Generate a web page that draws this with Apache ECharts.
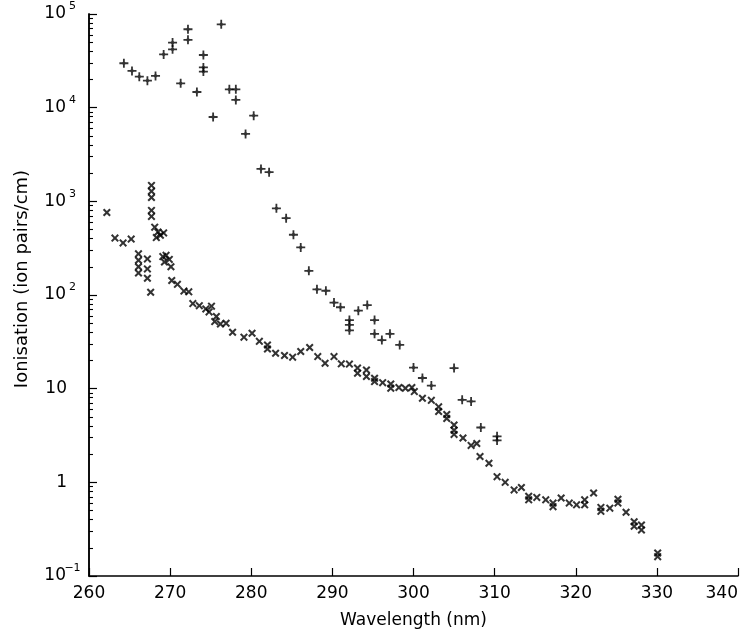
<!DOCTYPE html>
<html>
<head>
<meta charset="utf-8">
<script src="https://cdn.jsdelivr.net/npm/echarts@6/dist/echarts.min.js"></script>
<style>
  html, body { margin: 0; padding: 0; background: #ffffff; }
  #chart { width: 744px; height: 637px; }
</style>
</head>
<body>
<div id="chart"></div>
<script>
// ---- data ----
const plusWavelength = [264.3, 265.3, 266.2, 267.2, 268.2, 269.2, 270.3, 270.3, 271.3, 272.2, 272.2, 273.3, 274.1, 274.1, 274.1, 275.3, 276.3, 277.3, 278.1, 278.1, 279.3, 280.3, 281.2, 282.2, 283.1, 284.3, 285.2, 286.1, 287.1, 288.1, 289.2, 290.2, 291.0, 292.1, 292.1, 292.1, 293.2, 294.3, 295.2, 295.2, 296.1, 297.1, 298.3, 300.0, 301.1, 302.2, 305.0, 306.0, 307.1, 308.3, 310.3, 310.3];
const plusIonisation = [29800, 24700, 21400, 19400, 21800, 37000, 49500, 42000, 18200, 68700, 53000, 14700, 36500, 26900, 24300, 7950, 77600, 15700, 15700, 12100, 5250, 8220, 2220, 2050, 843, 661, 440, 322, 181, 115, 111, 83, 74, 54, 48, 42, 68, 78, 54, 38.5, 33, 38.5, 29.3, 16.8, 13, 10.8, 16.6, 7.6, 7.3, 3.85, 3.1, 2.8];

const crossWavelength = [262.2, 263.2, 264.2, 265.2, 266.1, 266.1, 266.1, 266.1, 267.2, 267.2, 267.2, 267.6, 267.7, 267.7, 267.7, 267.7, 267.7, 268.1, 268.3, 268.5, 268.8, 269.2, 269.1, 269.5, 269.9, 269.3, 270.1, 270.2, 270.9, 271.7, 272.3, 272.8, 273.6, 274.4, 275.1, 274.8, 275.7, 275.5, 276.2, 276.9, 277.7, 279.1, 280.1, 281.0, 282.0, 282.0, 283.0, 284.1, 285.1, 286.1, 287.2, 288.2, 289.1, 290.2, 291.1, 292.1, 293.1, 293.1, 294.2, 294.2, 295.2, 295.2, 296.2, 297.2, 297.2, 298.2, 299.0, 299.8, 300.1, 301.1, 302.2, 303.1, 303.1, 304.1, 304.1, 305.0, 305.0, 305.0, 306.1, 307.1, 307.8, 308.2, 309.3, 310.3, 311.3, 312.4, 313.3, 314.2, 314.2, 315.2, 316.3, 317.2, 317.2, 318.2, 319.2, 320.1, 321.1, 321.1, 322.2, 323.1, 323.1, 324.2, 325.2, 325.2, 326.2, 327.2, 327.2, 328.1, 328.1, 330.1, 330.1];
const crossIonisation = [760, 405, 360, 395, 275, 235, 200, 172, 243, 190, 151, 107, 1480, 1280, 1100, 800, 690, 530, 410, 470, 435, 460, 257, 265, 240, 225, 200, 143, 130, 110, 108, 81, 77, 71, 76, 66, 59, 52, 49, 50, 40, 35.5, 39, 32, 29.3, 26.5, 23.9, 22.6, 21.7, 24.9, 27.5, 22, 18.7, 22, 18.4, 18.3, 16.6, 14.6, 15.8, 13.5, 12.9, 11.9, 11.6, 11.2, 10.1, 10.3, 10.1, 10.3, 9.3, 7.9, 7.5, 6.4, 5.7, 5.3, 4.8, 4.1, 3.6, 3.25, 2.97, 2.48, 2.6, 1.89, 1.6, 1.15, 1.0, 0.83, 0.88, 0.71, 0.65, 0.69, 0.65, 0.60, 0.55, 0.68, 0.60, 0.575, 0.65, 0.575, 0.77, 0.54, 0.49, 0.53, 0.66, 0.60, 0.48, 0.38, 0.34, 0.35, 0.31, 0.176, 0.161];

const xTickValues = [260, 270, 280, 290, 300, 310, 320, 330, 340];
const yMajorTicks = [0.1, 1, 10, 100, 1000, 10000, 100000];
const yMinorMultipliers = [2, 3, 4, 5, 6, 7, 8, 9];

const xAxisTitle = 'Wavelength (nm)';
const yAxisTitle = 'Ionisation (ion pairs/cm)';

// ---- build ----
const yMinorTicksLog = [];
for (let i = 0; i < yMajorTicks.length - 1; i++) {
  yMinorMultipliers.forEach(k => yMinorTicksLog.push(Math.log10(k * yMajorTicks[i])));
}
const plusData = plusWavelength.map((w, i) => [w, plusIonisation[i]]);
const crossData = crossWavelength.map((w, i) => [w, crossIonisation[i]]);

const INK = '#000000';
const FONT = 'DejaVu Sans';
const axisLineStyle = { color: INK, width: 1.5 };
const plusPath = 'path://M4,0H6V3.2L6.8,4H10V6H6.8L6,6.8V10H4V6.8L3.2,6H0V4H3.2L4,3.2Z';
const crossPath = 'path://M0,1.8L1.8,0L5,3.2L8.2,0L10,1.8L6.8,5L10,8.2L8.2,10L5,6.8L1.8,10L0,8.2L3.2,5Z';

const chart = echarts.init(document.getElementById('chart'), null, { renderer: 'canvas' });
chart.setOption({
  animation: false,
  backgroundColor: '#ffffff',
  grid: { left: 89, right: 6, top: 14, bottom: 61, containLabel: false, outerBoundsMode: 'none' },
  xAxis: {
    type: 'value',
    min: xTickValues[0],
    max: xTickValues[xTickValues.length - 1],
    interval: 10,
    axisLine: { show: true, onZero: false, lineStyle: axisLineStyle },
    axisTick: { show: true, inside: true, length: 8, lineStyle: { color: INK, width: 1.2 } },
    axisLabel: { margin: 9, fontSize: 17, fontFamily: FONT, color: INK, alignMaxLabel: 'right' },
    splitLine: { show: false },
    name: xAxisTitle,
    nameLocation: 'middle',
    nameGap: 36,
    nameTextStyle: { fontSize: 17, fontFamily: FONT, color: INK }
  },
  yAxis: [
    {
      type: 'log',
      logBase: 10,
      min: yMajorTicks[0],
      max: yMajorTicks[yMajorTicks.length - 1],
      axisLine: { show: true, onZero: false, lineStyle: axisLineStyle },
      axisTick: { show: true, inside: true, length: 8, lineStyle: { color: INK, width: 1.2 } },
      minorTick: { show: false },
      axisLabel: {
        margin: 11,
        fontSize: 17,
        fontFamily: FONT,
        color: INK,
        formatter: function (v) {
          const e = Math.round(Math.log10(v));
          if (e === 0) return '1{sp| }';
          if (e === 1) return '10{sp| }';
          return '10{sup|' + (e < 0 ? '\u2212' + (-e) : e) + '}';
        },
        rich: {
          sup: { fontSize: 11, fontFamily: FONT, color: INK, width: 11, align: 'left', padding: [0, 0, 15, 1] },
          sp: { fontSize: 11, width: 11 }
        }
      },
      splitLine: { show: false },
      name: yAxisTitle,
      nameLocation: 'middle',
      nameRotate: 90,
      nameGap: 58,
      nameTextStyle: { fontSize: 18, fontFamily: FONT, color: INK, padding: [0, 0, 0, 32] }
    },
    {
      // helper axis in log10 units, only for the minor ticks at 2..9 of each decade
      type: 'value',
      min: Math.log10(yMajorTicks[0]),
      max: Math.log10(yMajorTicks[yMajorTicks.length - 1]),
      position: 'left',
      offset: 0,
      axisLine: { show: true, onZero: false, lineStyle: axisLineStyle },
      axisTick: { show: true, inside: true, length: 4, customValues: yMinorTicksLog, lineStyle: { color: INK, width: 1.1 } },
      axisLabel: { show: false },
      splitLine: { show: false }
    }
  ],
  series: [
    {
      name: '+',
      type: 'scatter',
      yAxisIndex: 0,
      data: plusData,
      symbol: plusPath,
      symbolSize: 9,
      itemStyle: { color: INK },
      emphasis: { disabled: true }
    },
    {
      name: 'x',
      type: 'scatter',
      yAxisIndex: 0,
      data: crossData,
      symbol: crossPath,
      symbolSize: 8,
      itemStyle: { color: INK },
      emphasis: { disabled: true }
    }
  ]
});
</script>
</body>
</html>
